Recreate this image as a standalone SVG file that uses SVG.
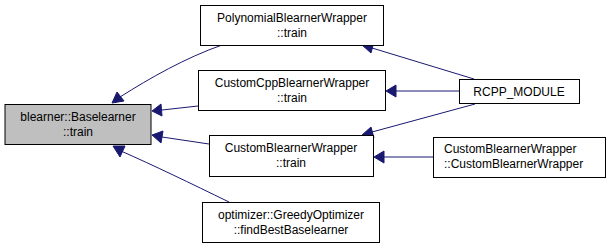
<svg xmlns="http://www.w3.org/2000/svg" width="611" height="248" viewBox="0 0 611 248">
  <style>
    .node rect { fill: #ffffff; stroke: #000000; stroke-width: 1; }
    .node.current rect { fill: #bfbfbf; }
    .node text { font-family: "Liberation Sans", Arial, sans-serif; font-size: 12px; fill: #000000; }
    .c { text-anchor: middle; }
    .edge { fill: none; stroke: #191970; stroke-width: 1; }
    .head { fill: #191970; stroke: #191970; stroke-width: 1; }
  </style>
  <rect width="611" height="248" fill="#ffffff"/>

  <!-- call edges -->
  <g id="edges">
    <!-- PolynomialBlearnerWrapper::train -> Baselearner::train -->
    <path class="edge" d="M222,45 C185,58 150,78 120,97"/>
    <polygon class="head" points="112,103 117,92 124,101"/>
    <!-- CustomCppBlearnerWrapper::train -> Baselearner::train -->
    <path class="edge" d="M198,106 L162,110"/>
    <polygon class="head" points="152,111 161,104 162,116"/>
    <!-- CustomBlearnerWrapper::train -> Baselearner::train -->
    <path class="edge" d="M209,144 L162,137"/>
    <polygon class="head" points="152,135 163,131 161,143"/>
    <!-- GreedyOptimizer::findBestBaselearner -> Baselearner::train -->
    <path class="edge" d="M229,202 C190,183 155,166 121,151"/>
    <polygon class="head" points="113,146 125,146 120,157"/>
    <!-- RCPP_MODULE -> PolynomialBlearnerWrapper::train -->
    <path class="edge" d="M474,79 L372,48"/>
    <polygon class="head" points="362,45 374,42 371,53"/>
    <!-- RCPP_MODULE -> CustomCppBlearnerWrapper::train -->
    <path class="edge" d="M459,91 L396,91"/>
    <polygon class="head" points="386,91 396,85 396,97"/>
    <!-- RCPP_MODULE -> CustomBlearnerWrapper::train -->
    <path class="edge" d="M475,104 L372,132"/>
    <polygon class="head" points="362,135 371,127 374,138"/>
    <!-- CustomBlearnerWrapper ctor -> CustomBlearnerWrapper::train -->
    <path class="edge" d="M433,157 L384,157"/>
    <polygon class="head" points="374,157 384,151 384,163"/>
  </g>

  <g id="baselearner_train" class="node current">
    <rect x="5" y="104.5" width="146" height="40"/>
    <text class="c" x="78" y="121">blearner::Baselearner</text>
    <text class="c" x="78" y="136">::train</text>
  </g>

  <g id="polynomial_train" class="node">
    <rect x="200.5" y="5.5" width="183" height="40"/>
    <text class="c" x="292" y="22">PolynomialBlearnerWrapper</text>
    <text class="c" x="292" y="37">::train</text>
  </g>

  <g id="customcpp_train" class="node">
    <rect x="198.5" y="70.5" width="187" height="40"/>
    <text class="c" x="292" y="87">CustomCppBlearnerWrapper</text>
    <text class="c" x="292" y="102">::train</text>
  </g>

  <g id="custom_train" class="node">
    <rect x="209.5" y="135.5" width="164" height="41"/>
    <text class="c" x="291" y="152">CustomBlearnerWrapper</text>
    <text class="c" x="291" y="167">::train</text>
  </g>

  <g id="greedy_find" class="node">
    <rect x="202.5" y="202.5" width="177" height="40"/>
    <text class="c" x="291" y="219">optimizer::GreedyOptimizer</text>
    <text class="c" x="291" y="234">::findBestBaselearner</text>
  </g>

  <g id="rcpp_module" class="node">
    <rect x="459.5" y="79.5" width="120" height="24"/>
    <text class="c" x="519" y="96">RCPP_MODULE</text>
  </g>

  <g id="custom_ctor" class="node">
    <rect x="433.5" y="137.5" width="172" height="40"/>
    <text x="444" y="153">CustomBlearnerWrapper</text>
    <text x="444" y="168">::CustomBlearnerWrapper</text>
  </g>
</svg>
